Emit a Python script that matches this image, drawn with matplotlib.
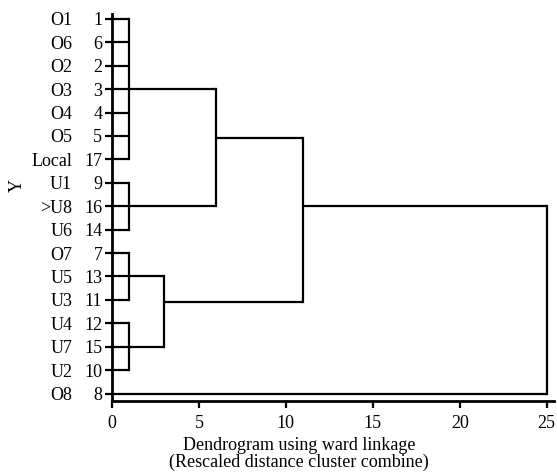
import matplotlib
matplotlib.use("Agg")
import matplotlib.pyplot as plt

plt.rcParams['font.family'] = ['Liberation Serif', 'DejaVu Serif']
plt.rcParams['font.size'] = 13

# leaves, top to bottom
names = ['O1', 'O6', 'O2', 'O3', 'O4', 'O5', 'Local', 'U1', '>U8', 'U6',
         'O7', 'U5', 'U3', 'U4', 'U7', 'U2', 'O8']
ids = [1, 6, 2, 3, 4, 5, 17, 9, 16, 14, 7, 13, 11, 12, 15, 10, 8]
rows = list(range(1, len(names) + 1))

# clusters: name -> (children, merge height, row where the node line leaves)
# children are leaf rows (int) or cluster names (str)
clusters = {
    'A': ([1, 2, 3, 4, 5, 6, 7], 1, 4),
    'B': ([8, 9, 10], 1, 9),
    'C': ([11, 12, 13], 1, 12),
    'D': ([14, 15, 16], 1, 15),
    'AB': (['A', 'B'], 6, 6.1),
    'CD': (['C', 'D'], 3, 13.08),
    'ABCD': (['AB', 'CD'], 11, 9),
    'all': (['ABCD', 17], 25, None),
}

fig = plt.figure(figsize=(5.57, 4.73), dpi=100)
ax = fig.add_axes([0.2011, 0.1522, 0.7935, 0.8182])

lw = 1.6
for key, (children, h, node) in clusters.items():
    ys = []
    for c in children:
        if isinstance(c, str):
            cx, cy = clusters[c][1], clusters[c][2]
        else:
            cx, cy = 0, c
        ax.plot([cx, h], [cy, cy], color='black', lw=lw, solid_capstyle='butt')
        ys.append(cy)
    ax.plot([h, h], [min(ys), max(ys)], color='black', lw=lw, solid_capstyle='projecting')

ax.set_xlim(0, 25.42)
ax.set_ylim(17.32, 0.79)
ax.set_xticks([0, 5, 10, 15, 20, 25])
ax.set_yticks(rows)
ax.set_yticklabels([str(i) for i in ids])
ax.tick_params(axis='both', direction='out', length=5, width=1.6, colors='black', pad=2)
ax.tick_params(axis='x', pad=5)

for s in ['top', 'right']:
    ax.spines[s].set_visible(False)
for s in ['left', 'bottom']:
    ax.spines[s].set_linewidth(2)

tr = ax.get_yaxis_transform()
for r, n in zip(rows, names):
    ax.text(-0.09, r, n, transform=tr, ha='right', va='center_baseline')

ax.set_ylabel('Y')
ax.yaxis.set_label_coords(-0.195, 0.558)
ax.set_xlabel('Dendrogram using ward linkage\n(Rescaled distance cluster combine)',
              linespacing=1.0)
ax.xaxis.set_label_coords(0.423, -0.093)

fig.savefig('out.png', dpi=100)
